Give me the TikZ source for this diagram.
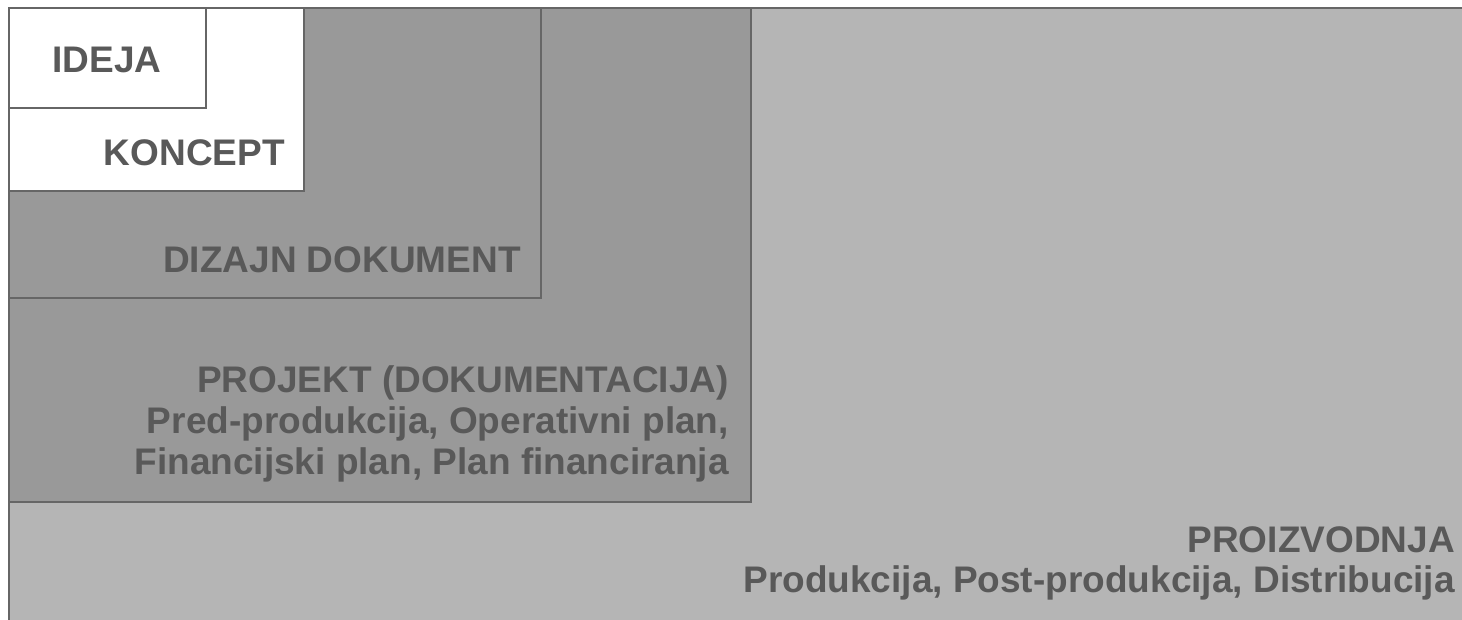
\documentclass[tikz,border=0pt]{standalone}
\usepackage{fontspec}
\setmainfont{Liberation Sans}
\definecolor{txt}{HTML}{595959}
\definecolor{edge}{HTML}{666666}
\definecolor{light}{HTML}{B5B5B5}
\definecolor{dark}{HTML}{999999}
\tikzset{
  stage/.style={draw=edge, line width=2pt},
  lbl/.style={text=txt, font=\bfseries\fontsize{37}{43}\selectfont, inner sep=0pt, anchor=base east}
}
\begin{document}
\begin{tikzpicture}[x=1pt,y=-1pt]
\useasboundingbox (0,0) rectangle (1462,620);
\begin{scope}
\clip (0,0) rectangle (1462,620);
\fill[white] (0,0) rectangle (1462,620);
\draw[stage, fill=light] (9,8) rectangle (1480,640);
\draw[stage, fill=dark] (9,8) rectangle (751,502);
\draw[stage, fill=dark] (9,8) rectangle (541,298);
\draw[stage, fill=white] (9,8) rectangle (304,191);
\draw[stage, fill=white] (9,8) rectangle (206,108);
\end{scope}
\node[lbl, anchor=base] (ideja) at (107,73) {IDEJA};
\node[lbl] (koncept) at (285,166) {KONCEPT};
\node[lbl] (dizajn) at (521,273) {DIZAJN DOKUMENT};
\node[lbl] (projekt) at (729,392) {PROJEKT (DOKUMENTACIJA)};
\node[lbl] (projekt2) at (729,433) {Pred-produkcija, Operativni plan,};
\node[lbl] (projekt3) at (729,474) {Financijski plan, Plan financiranja};
\node[lbl] (proiz) at (1455,552) {PROIZVODNJA};
\node[lbl] (proiz2) at (1455,592) {Produkcija, Post-produkcija, Distribucija};
\end{tikzpicture}
\end{document}
